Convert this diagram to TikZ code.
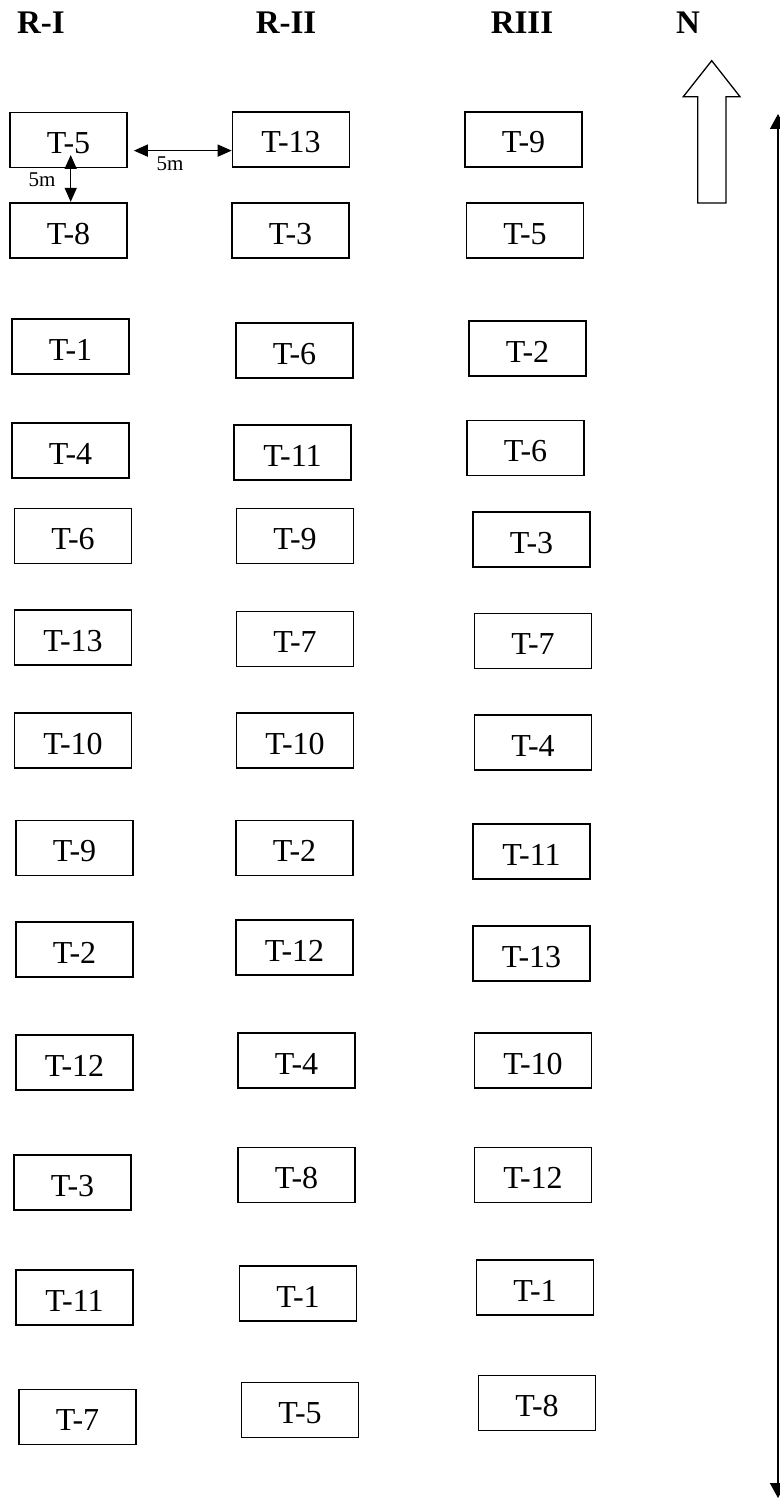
\documentclass[tikz,border=0pt]{standalone}
\usepackage{fontspec}
\setmainfont{Liberation Serif}
\usetikzlibrary{arrows.meta,calc}

\begin{document}
\begin{tikzpicture}[
  x=0.5pt,
  y=-0.5pt,
  font=\fontsize{16}{19}\selectfont,
  >={Triangle[length=7pt,width=6pt]},
  plot/.style={draw=black, line width=0.75pt, minimum width=58.6pt,
    minimum height=27.3pt, inner sep=0pt, text height=13.5pt, text depth=0pt},
  rep/.style={font=\fontsize{16.5}{20}\selectfont\bfseries, anchor=base, inner sep=0pt},
  dim/.style={<->, line width=0.75pt},
  fieldline/.style={{Triangle[length=7.5pt,width=8pt]}-{Triangle[length=7.5pt,width=8pt]},
    line width=0.75pt},
  note/.style={font=\fontsize{10.5}{12}\selectfont, inner sep=0pt},
  compass/.style={draw=black, line width=0.65pt, fill=white, line join=miter}
]
\useasboundingbox (0,0) rectangle (780,1498);

% replication headers
\node[rep] (rep1) at (41,34) {R-I};
\node[rep] (rep2) at (286,34) {R-II};
\node[rep] (rep3) at (522,34) {RIII};
\node[rep] (north) at (688,34) {N};

% R-I
\node[plot] (r1t5)  at (68.5,140)    {T-5};
\node[plot] (r1t8)  at (68.5,230.5)  {T-8};
\node[plot] (r1t1)  at (70.5,346.5)  {T-1};
\node[plot] (r1t4)  at (70.5,450.5)  {T-4};
\node[plot] (r1t6)  at (73,536)      {T-6};
\node[plot] (r1t13) at (73,637.5)    {T-13};
\node[plot] (r1t10) at (73,740.5)    {T-10};
\node[plot] (r1t9)  at (74.5,848)    {T-9};
\node[plot] (r1t2)  at (74.5,949.5)  {T-2};
\node[plot] (r1t12) at (74.5,1062.5) {T-12};
\node[plot] (r1t3)  at (72.5,1182.5) {T-3};
\node[plot] (r1t11) at (74.5,1297.5) {T-11};
\node[plot] (r1t7)  at (77.5,1417)   {T-7};

% R-II
\node[plot] (r2t13) at (291,139.5)   {T-13};
\node[plot] (r2t3)  at (290.5,230.5) {T-3};
\node[plot] (r2t6)  at (294.5,350.5) {T-6};
\node[plot] (r2t11) at (292.5,452.5) {T-11};
\node[plot] (r2t9)  at (295,536)     {T-9};
\node[plot] (r2t7)  at (295,639)     {T-7};
\node[plot] (r2t10) at (295,740.5)   {T-10};
\node[plot] (r2t2)  at (294.5,848)   {T-2};
\node[plot] (r2t12) at (294.5,947.5) {T-12};
\node[plot] (r2t4)  at (296.5,1060.5) {T-4};
\node[plot] (r2t8)  at (296.5,1175)  {T-8};
\node[plot] (r2t1)  at (298,1293.5)  {T-1};
\node[plot] (r2t5)  at (300,1410)    {T-5};

% RIII
\node[plot] (r3t9)  at (523.5,139.5) {T-9};
\node[plot] (r3t5)  at (525,230.5)   {T-5};
\node[plot] (r3t2)  at (527.5,348.5) {T-2};
\node[plot] (r3t6)  at (525.5,448)   {T-6};
\node[plot] (r3t3)  at (531.5,539.5) {T-3};
\node[plot] (r3t7)  at (533,641)     {T-7};
\node[plot] (r3t4)  at (533,742.5)   {T-4};
\node[plot] (r3t11) at (531.5,851.5) {T-11};
\node[plot] (r3t13) at (531.5,953.5) {T-13};
\node[plot] (r3t10) at (533,1060.5)  {T-10};
\node[plot] (r3t12) at (533,1175)    {T-12};
\node[plot] (r3t1)  at (535,1287.5)  {T-1};
\node[plot] (r3t8)  at (537,1403)    {T-8};

% spacing marks
\draw[dim] ($(r1t5.east)+(3pt,-5.3pt)$) -- ($(r1t5.east -| r2t13.west)+(0,-5.3pt)$);
\node[note] (gapx) at (170,164) {5m};
\draw[dim] ($(r1t5.center)+(1.1pt,-7.5pt)$) -- ($(r1t8.north)+(1.1pt,0.3pt)$);
\node[note] (gapy) at (42,180) {5m};

% north sign and field length
\draw[compass] (711.7,60.7) -- (740,96.7) -- (726,96.7) -- (726,203)
  -- (697.7,203) -- (697.7,96.7) -- (683.3,96.7) -- cycle;
\coordinate (fieldtop) at (778,114);
\coordinate (fieldbot) at (778,1498);
\draw[fieldline] (fieldtop) -- (fieldbot);

\end{tikzpicture}
\end{document}
